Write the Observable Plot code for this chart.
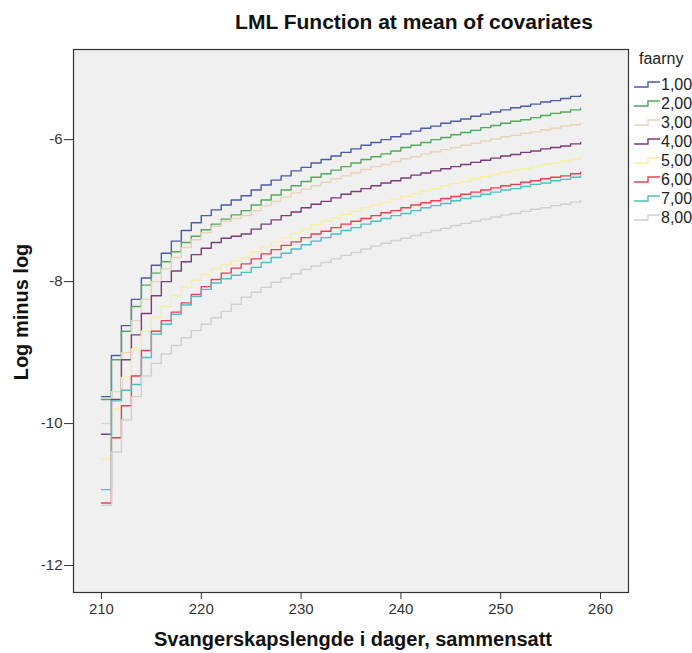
<!DOCTYPE html>
<html>
<head>
<meta charset="utf-8">
<script src="https://cdn.jsdelivr.net/npm/d3@7"></script>
<script src="https://cdn.jsdelivr.net/npm/@observablehq/plot@0.6"></script>
<style>
  html, body { margin: 0; padding: 0; background: #fff; }
  svg text { font-family: "Liberation Sans", Arial, sans-serif; }
</style>
</head>
<body>
<div id="chart"></div>
<script>
// ---- data ----
const days = d3.range(210, 259);
const seriesLabels = ["1,00", "2,00", "3,00", "4,00", "5,00", "6,00", "7,00", "8,00"];
const seriesColors = ["#4a5ba8", "#52a85a", "#e9d2b8", "#7b3b7c", "#f5f0a0", "#e8404f", "#4dbec4", "#cfcfcf"];

const s1 = [-9.62,-9.04,-8.62,-8.25,-7.95,-7.77,-7.60,-7.43,-7.28,-7.17,-7.07,-6.99,-6.92,-6.85,
  -6.79,-6.71,-6.64,-6.57,-6.51,-6.44,-6.39,-6.33,-6.28,-6.23,-6.18,-6.13,-6.08,-6.04,-6.00,-5.96,
  -5.92,-5.88,-5.84,-5.81,-5.77,-5.74,-5.71,-5.67,-5.64,-5.61,-5.58,-5.55,-5.53,-5.50,-5.47,-5.45,
  -5.42,-5.39,-5.37];
const s2 = [-9.66,-9.10,-8.70,-8.35,-8.05,-7.88,-7.72,-7.58,-7.45,-7.36,-7.27,-7.19,-7.12,-7.06,
  -7.00,-6.92,-6.85,-6.78,-6.71,-6.65,-6.59,-6.53,-6.48,-6.43,-6.38,-6.33,-6.28,-6.24,-6.20,-6.16,
  -6.11,-6.08,-6.04,-6.00,-5.97,-5.93,-5.90,-5.87,-5.83,-5.80,-5.77,-5.74,-5.72,-5.69,-5.66,-5.63,
  -5.61,-5.58,-5.56];
const s3 = [-10.00,-9.55,-9.00,-8.55,-8.25,-8.00,-7.82,-7.66,-7.52,-7.41,-7.31,-7.22,-7.15,-7.11,
  -7.07,-7.00,-6.93,-6.87,-6.81,-6.75,-6.70,-6.65,-6.60,-6.55,-6.51,-6.47,-6.42,-6.38,-6.35,-6.31,
  -6.27,-6.24,-6.20,-6.17,-6.14,-6.11,-6.08,-6.05,-6.02,-5.99,-5.96,-5.94,-5.91,-5.89,-5.86,-5.84,
  -5.81,-5.79,-5.77];
const s4 = [-10.15,-9.66,-9.10,-8.75,-8.45,-8.20,-8.00,-7.85,-7.72,-7.62,-7.53,-7.45,-7.39,-7.36,
  -7.33,-7.26,-7.19,-7.13,-7.07,-7.02,-6.96,-6.91,-6.87,-6.82,-6.77,-6.73,-6.69,-6.65,-6.61,-6.58,
  -6.54,-6.50,-6.47,-6.44,-6.41,-6.38,-6.35,-6.32,-6.29,-6.26,-6.23,-6.21,-6.18,-6.16,-6.13,-6.11,
  -6.09,-6.06,-6.04];
const s5 = [-10.50,-9.80,-9.35,-8.95,-8.70,-8.50,-8.35,-8.20,-8.08,-7.98,-7.90,-7.82,-7.76,-7.71,
  -7.66,-7.58,-7.51,-7.44,-7.38,-7.32,-7.26,-7.20,-7.15,-7.10,-7.05,-7.01,-6.96,-6.92,-6.88,-6.84,
  -6.80,-6.76,-6.72,-6.69,-6.65,-6.62,-6.59,-6.55,-6.52,-6.49,-6.46,-6.43,-6.41,-6.38,-6.35,-6.33,
  -6.30,-6.28,-6.25];
const s6 = [-11.12,-10.20,-9.75,-9.33,-8.97,-8.70,-8.55,-8.43,-8.30,-8.18,-8.07,-7.97,-7.88,-7.81,
  -7.75,-7.68,-7.61,-7.55,-7.49,-7.44,-7.38,-7.33,-7.29,-7.24,-7.19,-7.15,-7.11,-7.07,-7.03,-7.00,
  -6.96,-6.92,-6.89,-6.86,-6.83,-6.80,-6.77,-6.74,-6.71,-6.68,-6.65,-6.63,-6.60,-6.58,-6.55,-6.53,
  -6.51,-6.48,-6.46];
const s7 = [-10.93,-9.68,-9.53,-9.45,-9.07,-8.74,-8.60,-8.46,-8.33,-8.21,-8.11,-8.02,-7.96,-7.91,
  -7.87,-7.80,-7.73,-7.66,-7.60,-7.54,-7.48,-7.43,-7.38,-7.33,-7.28,-7.24,-7.19,-7.15,-7.11,-7.07,
  -7.04,-7.00,-6.96,-6.93,-6.90,-6.86,-6.83,-6.80,-6.77,-6.74,-6.71,-6.69,-6.66,-6.63,-6.61,-6.58,
  -6.56,-6.53,-6.51];
const s8 = [-11.15,-10.40,-9.95,-9.62,-9.33,-9.15,-9.02,-8.90,-8.79,-8.69,-8.60,-8.51,-8.42,-8.32,
  -8.22,-8.15,-8.08,-8.01,-7.95,-7.89,-7.83,-7.78,-7.73,-7.68,-7.63,-7.59,-7.54,-7.50,-7.46,-7.42,
  -7.39,-7.35,-7.31,-7.28,-7.25,-7.21,-7.18,-7.15,-7.12,-7.09,-7.06,-7.04,-7.01,-6.98,-6.96,-6.93,
  -6.91,-6.88,-6.86];
const xTicks = [210, 220, 230, 240, 250, 260];
const yTicks = [-12, -10, -8, -6];

const allSeries = [s1, s2, s3, s4, s5, s6, s7, s8];
const table = [];
allSeries.forEach((vals, i) => vals.forEach((v, j) => table.push({day: days[j], value: v, faarny: seriesLabels[i]})));

const W = 692, H = 653;
const plot = Plot.plot({
  width: W,
  height: H,
  marginLeft: 73,
  marginRight: 64,
  marginTop: 49,
  marginBottom: 61,
  style: {fontFamily: "Liberation Sans, Arial, sans-serif", fontSize: "15px", background: "#fff", color: "#222"},
  x: {domain: [207.2, 262.8], label: null},
  y: {domain: [-12.38, -4.73], label: null},
  color: {domain: seriesLabels, range: seriesColors},
  marks: [
    Plot.frame({fill: "#f0f0f0", stroke: null}),
    Plot.line(table, {x: "day", y: "value", z: "faarny", stroke: "faarny", curve: "step-after", strokeWidth: 1.4}),
    Plot.frame({stroke: "#333", strokeWidth: 1.2}),
    Plot.axisX({ticks: xTicks, tickSize: 7, tickPadding: 4, tickFormat: d => String(d), stroke: "#333", fill: "#333"}),
    Plot.axisY({ticks: yTicks, tickSize: 9, tickPadding: 2, tickFormat: d => String(d), stroke: "#333", fill: "#333"})
  ]
});

const svg = d3.select(plot);
svg.append("text").attr("x", 414).attr("y", 29).attr("text-anchor", "middle")
  .attr("font-size", 21).attr("font-weight", "bold").attr("fill", "#111")
  .text("LML Function at mean of covariates");
svg.append("text").attr("x", 353).attr("y", 646).attr("text-anchor", "middle")
  .attr("font-size", 20).attr("font-weight", "bold").attr("fill", "#111")
  .text("Svangerskapslengde i dager, sammensatt");
svg.append("text").attr("transform", "translate(28,312) rotate(-90)").attr("text-anchor", "middle")
  .attr("font-size", 20).attr("font-weight", "bold").attr("fill", "#111")
  .text("Log minus log");

// legend
const lg = svg.append("g").attr("text-anchor", "start");
lg.append("text").attr("x", 639).attr("y", 64).attr("text-anchor", "start").attr("font-size", 16).attr("fill", "#222").text("faarny");
seriesLabels.forEach((lab, i) => {
  const cy = 84 + i * 19;
  lg.append("path")
    .attr("d", `M634,${cy + 3}H648V${cy - 2}H660`)
    .attr("fill", "none").attr("stroke", seriesColors[i]).attr("stroke-width", 1.4);
  lg.append("text").attr("x", 661).attr("y", cy + 6).attr("text-anchor", "start").attr("font-size", 16).attr("fill", "#222").text(lab);
});

document.getElementById("chart").appendChild(plot);
</script>
</body>
</html>
